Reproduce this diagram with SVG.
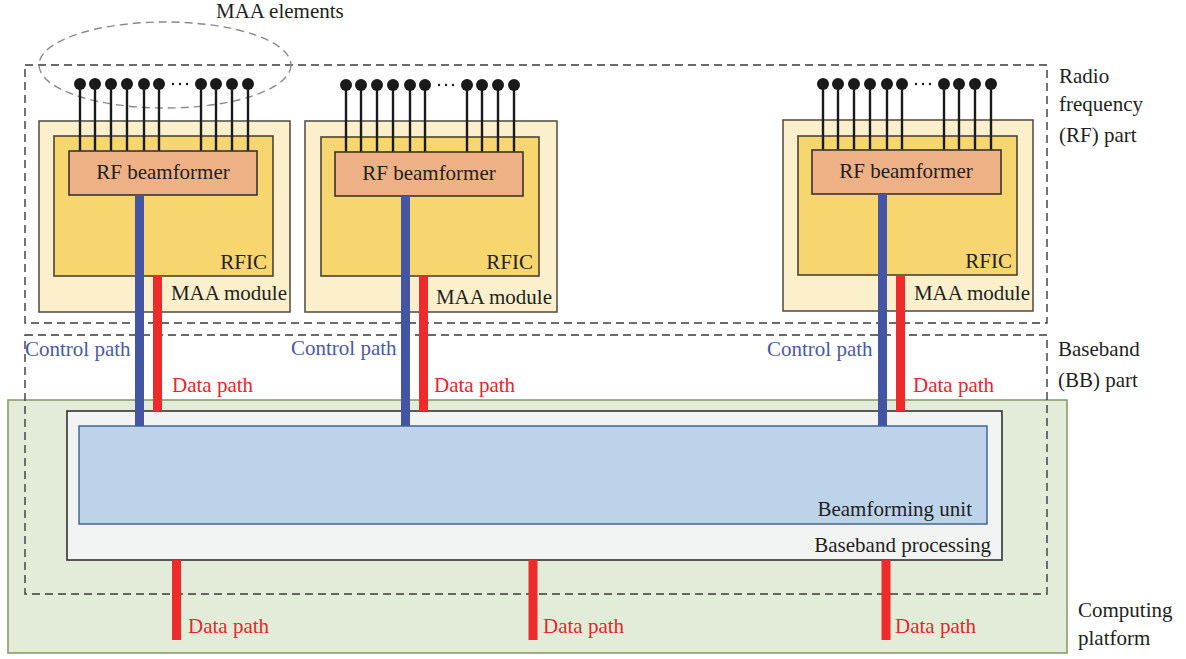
<svg xmlns="http://www.w3.org/2000/svg" width="1186" height="659" viewBox="0 0 1186 659">
<style>
text{font-family:'Liberation Serif','Times New Roman',Tinos,'DejaVu Serif',serif;font-size:21px;fill:#231f20}
.dash{fill:none;stroke:#3a3a3a;stroke-width:1.4;stroke-dasharray:8 5}
.mod{fill:#fcf0cc;stroke:#5a5448;stroke-width:1.6}
.rfic{fill:#f7d56f;stroke:#4a4438;stroke-width:1.6}
.bf{fill:#eeb085;stroke:#3a3430;stroke-width:1.6}
.ant{stroke:#1a1a1a;stroke-width:2.4}
.dot{fill:#1a1a1a}
.ctl{stroke:#4455a3;stroke-width:9}
.dat{stroke:#ee2a2a;stroke-width:9}
.ctlt{fill:#4a5aa8}
.datt{fill:#e8262a}
.r{text-anchor:end}
</style>
<defs>
<g id="ants">
<line class="ant" x1="0" y1="0" x2="0" y2="67"/>
<line class="ant" x1="15" y1="0" x2="15" y2="67"/>
<line class="ant" x1="31" y1="0" x2="31" y2="67"/>
<line class="ant" x1="47" y1="0" x2="47" y2="67"/>
<line class="ant" x1="64" y1="0" x2="64" y2="67"/>
<line class="ant" x1="79" y1="0" x2="79" y2="67"/>
<line class="ant" x1="121" y1="0" x2="121" y2="67"/>
<line class="ant" x1="136" y1="0" x2="136" y2="67"/>
<line class="ant" x1="152" y1="0" x2="152" y2="67"/>
<line class="ant" x1="168" y1="0" x2="168" y2="67"/>
<circle class="dot" cx="0" cy="0" r="6"/>
<circle class="dot" cx="15" cy="0" r="6"/>
<circle class="dot" cx="31" cy="0" r="6"/>
<circle class="dot" cx="47" cy="0" r="6"/>
<circle class="dot" cx="64" cy="0" r="6"/>
<circle class="dot" cx="79" cy="0" r="6"/>
<circle class="dot" cx="93" cy="0" r="1.2"/>
<circle class="dot" cx="100" cy="0" r="1.2"/>
<circle class="dot" cx="107" cy="0" r="1.2"/>
<circle class="dot" cx="121" cy="0" r="6"/>
<circle class="dot" cx="136" cy="0" r="6"/>
<circle class="dot" cx="152" cy="0" r="6"/>
<circle class="dot" cx="168" cy="0" r="6"/>
</g>
</defs>

<g id="computing-platform">
<rect x="8" y="400" width="1059" height="253" fill="#e2ecd9" stroke="#8a9e6a" stroke-width="1.6"/>
<text x="1078" y="617">Computing</text>
<text x="1078" y="645">platform</text>
</g>

<g id="rf-part">
<rect class="dash" x="25" y="65" width="1022" height="258"/>
<text x="1059" y="83">Radio</text>
<text x="1059" y="111">frequency</text>
<text x="1059" y="142">(RF) part</text>
</g>

<g id="bb-part">
<rect class="dash" x="25" y="335" width="1022" height="259"/>
<text x="1058" y="356">Baseband</text>
<text x="1058" y="387">(BB) part</text>
</g>

<g id="maa-elements">
<ellipse cx="165" cy="65" rx="126" ry="43" fill="none" stroke="#8a8a8a" stroke-width="1.4" stroke-dasharray="8 5"/>
<text x="216" y="18">MAA elements</text>
</g>

<g id="baseband-processing">
<rect x="67" y="411" width="935" height="149" fill="#f2f4f3" stroke="#333" stroke-width="1.6"/>
<text class="r" x="991" y="552">Baseband processing</text>
</g>

<g id="beamforming-unit">
<rect x="79" y="426" width="908" height="98" fill="#bdd3ea" stroke="#3d5f8f" stroke-width="1.4"/>
<text class="r" x="972" y="516">Beamforming unit</text>
</g>

<g id="maa-module-1">
<rect class="mod" x="39" y="121" width="251" height="191"/>
<rect class="rfic" x="54" y="136" width="219" height="140"/>
<use href="#ants" x="80" y="84"/>
<rect class="bf" x="69" y="151" width="188" height="44"/>
<text x="163" y="179" text-anchor="middle">RF beamformer</text>
<text class="r" x="267" y="269">RFIC</text>
<text class="r" x="287" y="300">MAA module</text>
</g>

<g id="maa-module-2">
<rect class="mod" x="305" y="121" width="252" height="191"/>
<rect class="rfic" x="321" y="137" width="218" height="139"/>
<use href="#ants" x="346" y="85"/>
<rect class="bf" x="335" y="152" width="188" height="44"/>
<text x="429" y="180" text-anchor="middle">RF beamformer</text>
<text class="r" x="533" y="269">RFIC</text>
<text class="r" x="552" y="304">MAA module</text>
</g>

<g id="maa-module-3">
<rect class="mod" x="783" y="120" width="250" height="191"/>
<rect class="rfic" x="798" y="136" width="219" height="139"/>
<use href="#ants" x="823" y="84"/>
<rect class="bf" x="812" y="150" width="189" height="44"/>
<text x="906" y="178" text-anchor="middle">RF beamformer</text>
<text class="r" x="1012" y="268">RFIC</text>
<text class="r" x="1030" y="300">MAA module</text>
</g>

<g id="connectors">
<line class="ctl" x1="139.5" y1="195" x2="139.5" y2="426"/>
<line class="dat" x1="157.5" y1="276" x2="157.5" y2="411"/>
<line class="ctl" x1="405.5" y1="196" x2="405.5" y2="426"/>
<line class="dat" x1="423.5" y1="276" x2="423.5" y2="411"/>
<line class="ctl" x1="882.5" y1="194" x2="882.5" y2="426"/>
<line class="dat" x1="900.5" y1="275" x2="900.5" y2="411"/>
<line class="dat" x1="176.5" y1="560" x2="176.5" y2="640"/>
<line class="dat" x1="533" y1="560" x2="533" y2="640"/>
<line class="dat" x1="886" y1="560" x2="886" y2="640"/>
<text class="ctlt" x="25" y="356">Control path</text>
<text class="ctlt" x="291" y="355">Control path</text>
<text class="ctlt" x="767" y="356">Control path</text>
<text class="datt" x="172" y="392">Data path</text>
<text class="datt" x="434" y="392">Data path</text>
<text class="datt" x="913" y="392">Data path</text>
<text class="datt" x="188" y="633">Data path</text>
<text class="datt" x="543" y="633">Data path</text>
<text class="datt" x="895" y="633">Data path</text>
</g>
</svg>
